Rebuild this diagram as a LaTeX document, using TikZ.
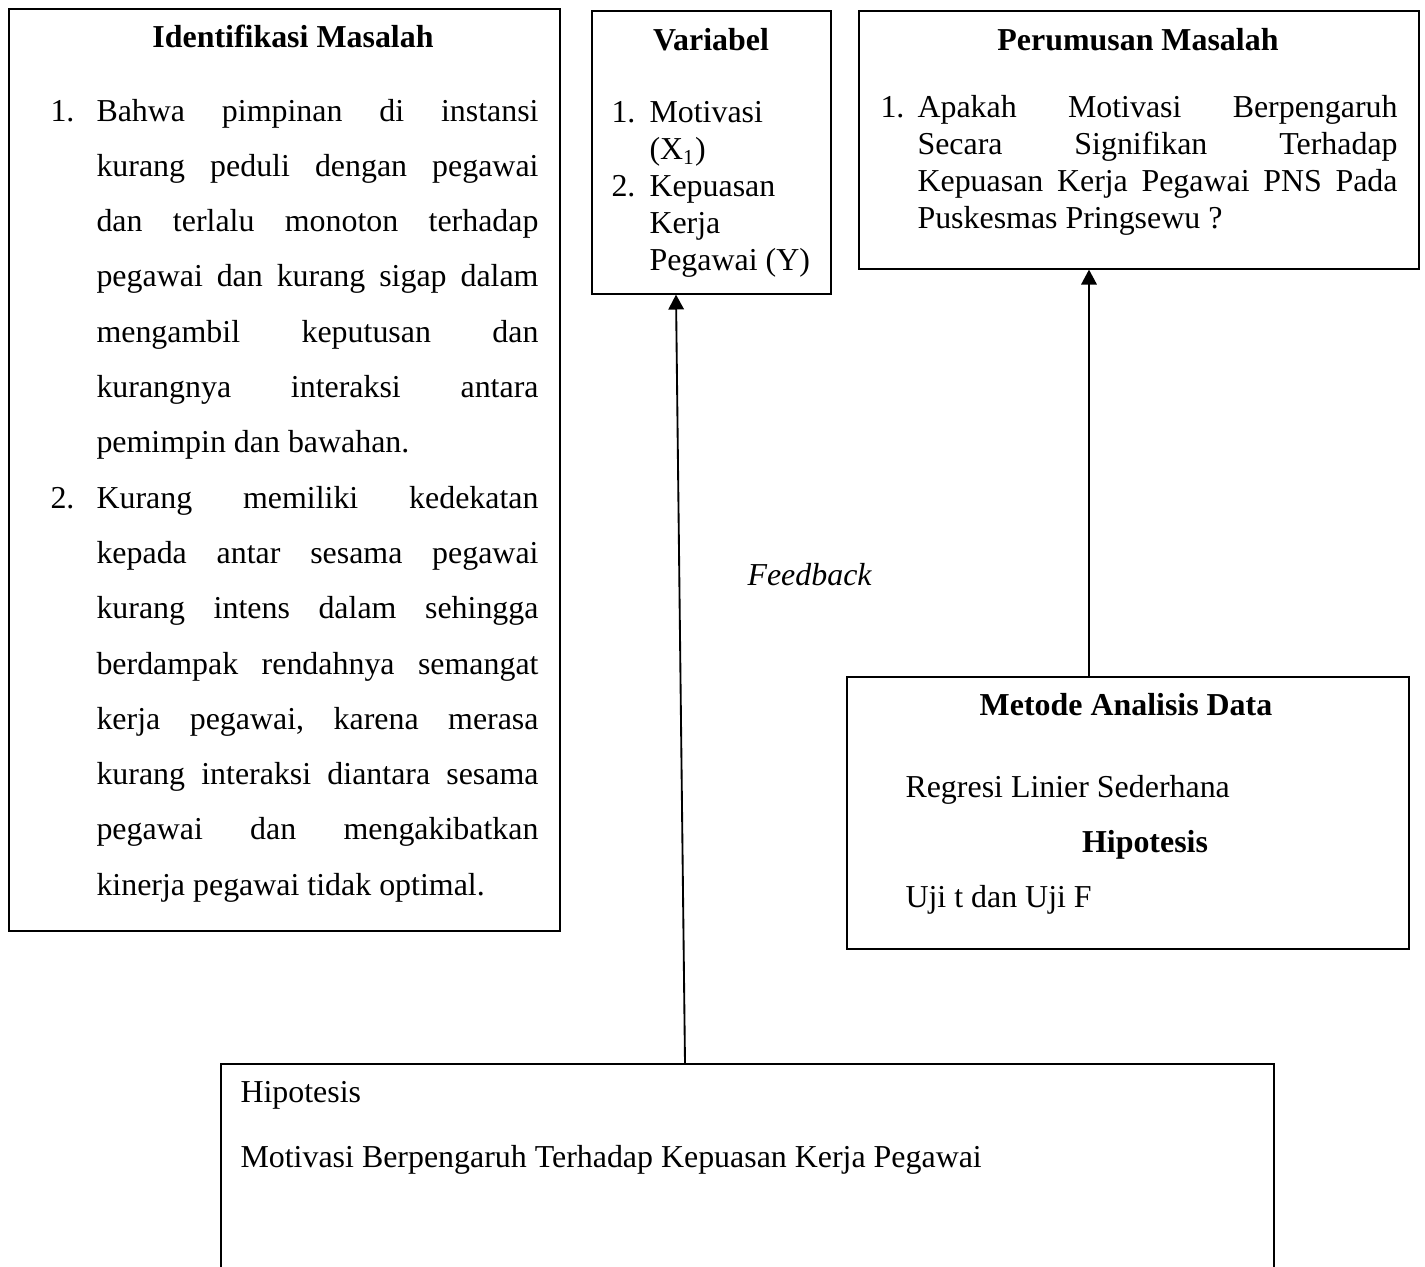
\documentclass[tikz,border=0pt]{standalone}
\usepackage{fontspec}
\setmainfont{Liberation Serif}
\usetikzlibrary{arrows.meta,calc}
\frenchspacing
\tikzset{
  box/.style={draw=black, line width=0.6pt, rectangle, inner sep=0pt, anchor=north west},
  txt/.style={inner sep=0pt, anchor=base west, font=\fontsize{12}{14}\selectfont},
  ttl/.style={inner sep=0pt, anchor=base, font=\fontsize{12}{14}\selectfont\bfseries},
  arr/.style={line width=0.7pt, -{Triangle[length=5.6pt,width=5.8pt]}}
}
\newcommand{\jline}[2]{\makebox[#1][s]{#2}}
\begin{document}
\begin{tikzpicture}[x=0.376pt, y=-0.376pt]
\useasboundingbox (0,0) rectangle (1425,1266);

% boxes
\node[box, minimum width=207.18pt, minimum height=346.67pt] (idm) at (8,8) {};
\node[box, minimum width=89.86pt, minimum height=106.41pt] (var) at (591,10) {};
\node[box, minimum width=210.56pt, minimum height=97.01pt] (per) at (858,10) {};
\node[box, minimum width=211.31pt, minimum height=102.27pt] (met) at (846,676) {};
\node[box, minimum width=395.93pt, minimum height=112.8pt] (hip) at (220,1063) {};

% Identifikasi Masalah
\node[ttl] (idmT) at (293,47) {Identifikasi Masalah};
\node[txt] (idn1) at (50,121) {1.};
\node[txt] (id1) at (96,121) {\jline{166.2pt}{Bahwa pimpinan di instansi}};
\node[txt] (id2) at (96,176.3) {\jline{166.2pt}{kurang peduli dengan pegawai}};
\node[txt] (id3) at (96,231.6) {\jline{166.2pt}{dan terlalu monoton terhadap}};
\node[txt] (id4) at (96,286.9) {\jline{166.2pt}{pegawai dan kurang sigap dalam}};
\node[txt] (id5) at (96,342.2) {\jline{166.2pt}{mengambil keputusan dan}};
\node[txt] (id6) at (96,397.5) {\jline{166.2pt}{kurangnya interaksi antara}};
\node[txt] (id7) at (96,452.8) {pemimpin dan bawahan.};
\node[txt] (idn2) at (50,508.1) {2.};
\node[txt] (id8) at (96,508.1) {\jline{166.2pt}{Kurang memiliki kedekatan}};
\node[txt] (id9) at (96,563.4) {\jline{166.2pt}{kepada antar sesama pegawai}};
\node[txt] (id10) at (96,618.7) {\jline{166.2pt}{kurang intens dalam sehingga}};
\node[txt] (id11) at (96,674.0) {\jline{166.2pt}{berdampak rendahnya semangat}};
\node[txt] (id12) at (96,729.3) {\jline{166.2pt}{kerja pegawai, karena merasa}};
\node[txt] (id13) at (96,784.6) {\jline{166.2pt}{kurang interaksi diantara sesama}};
\node[txt] (id14) at (96,839.9) {\jline{166.2pt}{pegawai dan mengakibatkan}};
\node[txt] (id15) at (96,895.2) {kinerja pegawai tidak optimal.};

% Variabel
\node[ttl] (varT) at (711,50) {Variabel};
\node[txt] (vn1) at (611,122) {1.};
\node[txt] (v1) at (649,122) {Motivasi};
\node[txt] (v2) at (649,159.5) {(X\textsubscript{1})};
\node[txt] (vn2) at (611,196.5) {2.};
\node[txt] (v3) at (649,196.5) {Kepuasan};
\node[txt] (v4) at (649,233.5) {Kerja};
\node[txt] (v5) at (649,270.5) {Pegawai (Y)};

% Perumusan Masalah
\node[ttl] (perT) at (1138,50) {Perumusan Masalah};
\node[txt] (pn1) at (880,117) {1.};
\node[txt] (p1) at (917,117) {\jline{180.5pt}{Apakah Motivasi Berpengaruh}};
\node[txt] (p2) at (917,154) {\jline{180.5pt}{Secara Signifikan Terhadap}};
\node[txt] (p3) at (917,191) {\jline{180.5pt}{Kepuasan Kerja Pegawai PNS Pada}};
\node[txt] (p4) at (917,228) {Puskesmas Pringsewu ?};

% Metode Analisis Data
\node[ttl] (metT) at (1126,715) {Metode Analisis Data};
\node[txt] (m1) at (905,797) {Regresi Linier Sederhana};
\node[ttl] (m2) at (1145,852) {Hipotesis};
\node[txt] (m3) at (905,907) {Uji t dan Uji F};

% Hipotesis (bottom)
\node[txt] (h1) at (240,1102) {Hipotesis};
\node[txt] (h2) at (240,1167) {Motivasi Berpengaruh Terhadap Kepuasan Kerja Pegawai};

% Feedback
\node[txt, font=\fontsize{12}{14}\selectfont\itshape] (fb) at (747,585) {Feedback};

% connectors
\draw[arr] ($(hip.north west)+(465,0)$) -- ($(var.south west)+(85,0)$);
\draw[arr] ($(met.north west)+(243,0)$) -- ($(per.south west)+(231,0)$);
\end{tikzpicture}
\end{document}
